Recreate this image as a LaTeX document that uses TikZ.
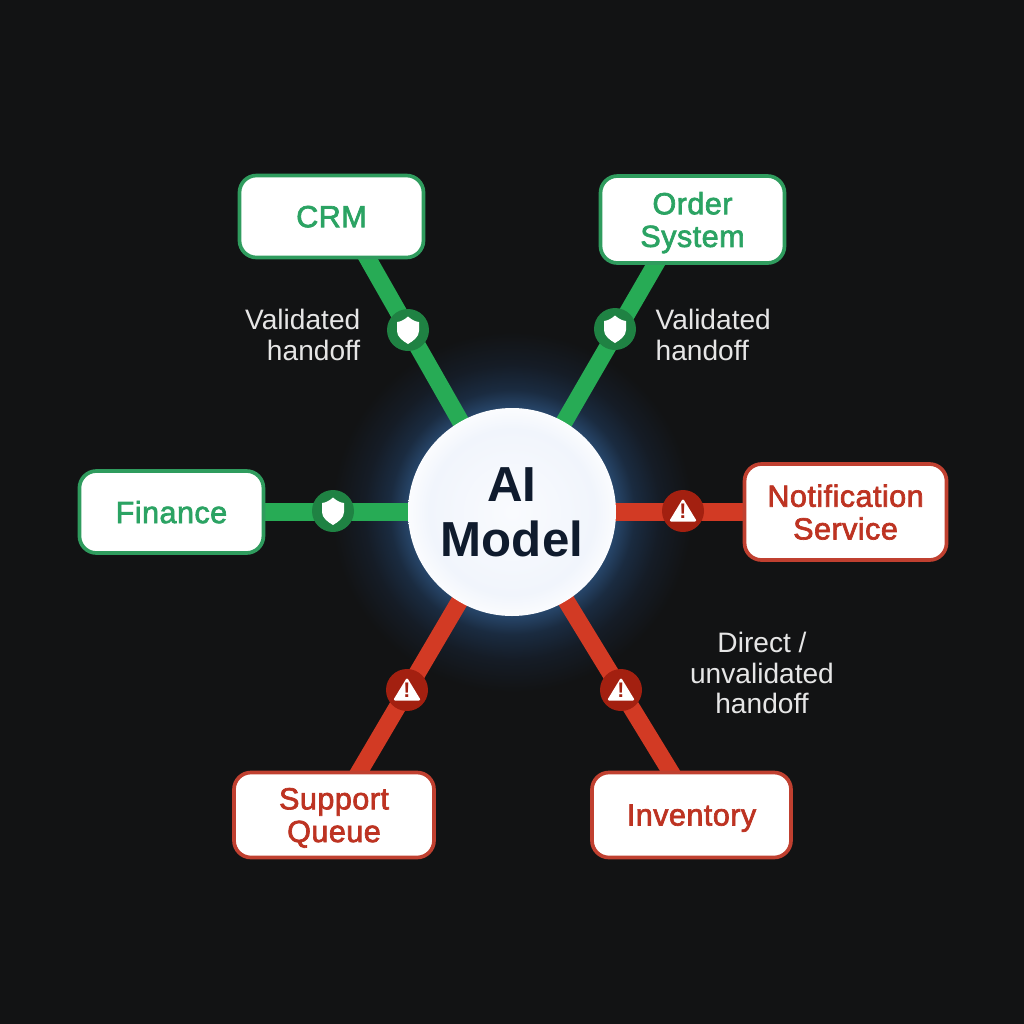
\documentclass[tikz,border=0pt]{standalone}
\usepackage{fontspec}
\setmainfont{Liberation Sans}
\newfontfamily\boxfont[FakeBold=2.2,LetterSpace=1.5]{Liberation Sans}
\usetikzlibrary{positioning,backgrounds}

\definecolor{bgcol}{HTML}{121314}
\definecolor{okline}{HTML}{27AB55}
\definecolor{okborder}{HTML}{2F9C5E}
\definecolor{okdark}{HTML}{1F8243}
\definecolor{oktext}{HTML}{2BA363}
\definecolor{badline}{HTML}{D23A24}
\definecolor{badborder}{HTML}{C04030}
\definecolor{baddark}{HTML}{A32010}
\definecolor{badtext}{HTML}{BD3322}
\definecolor{glowblue}{HTML}{27466A}
\definecolor{glowmid}{HTML}{1A2B40}
\definecolor{glowlow}{HTML}{151C26}
\definecolor{facetint}{HTML}{F1F5FC}
\definecolor{inkblue}{HTML}{0F1B2D}
\definecolor{notecol}{HTML}{E6E6E6}

\pgfdeclareradialshading{aiglow}{\pgfpoint{0cm}{0cm}}{%
  color(0bp)=(glowblue); color(14.4bp)=(glowblue); color(17bp)=(glowmid); color(20.5bp)=(glowlow); color(25bp)=(bgcol); color(50bp)=(bgcol)}
\pgfdeclareradialshading{aiface}{\pgfpoint{0cm}{0cm}}{%
  color(0bp)=(facetint!40!white); color(20bp)=(facetint); color(25bp)=(facetint!30!white); color(50bp)=(white)}

\begin{document}
\begin{tikzpicture}[
    box/.style={rectangle, draw, line width=1.05pt, fill=white, rounded corners=0.17cm, align=center,
      text depth=0pt, font=\fontsize{8.7}{9.3}\selectfont\boxfont, minimum width=1.84cm, minimum height=0.82cm},
    okbox/.style={box, draw=okborder, text=oktext},
    badbox/.style={box, draw=badborder, text=badtext},
    okline/.style={line width=4.9pt, draw=okline},
    badline/.style={line width=4.9pt, draw=badline},
    okbadge/.style={circle, fill=okdark, minimum size=0.42cm, inner sep=0pt, path picture={
      \fill[white, shift={(path picture bounding box.center)}] (0,0.135)
        .. controls (0.04,0.1) and (0.07,0.085) .. (0.11,0.08) -- (0.11,-0.01)
        .. controls (0.11,-0.07) and (0.05,-0.11) .. (0,-0.14)
        .. controls (-0.05,-0.11) and (-0.11,-0.07) .. (-0.11,-0.01) -- (-0.11,0.08)
        .. controls (-0.07,0.085) and (-0.04,0.1) .. cycle;}},
    badbadge/.style={circle, fill=baddark, minimum size=0.42cm, inner sep=0pt, text=baddark,
      font=\fontsize{6}{6}\selectfont\bfseries, path picture={
      \fill[white, rounded corners=0.6pt] ([yshift=0.125cm]path picture bounding box.center)
        -- ++(0.14,-0.23) -- ++(-0.28,0) -- cycle;}},
    note/.style={text=notecol, font=\fontsize{8}{8.8}\selectfont, inner sep=0pt}
]

\useasboundingbox (0,0) rectangle (10.24,-10.24);

% Main AI block
\node[circle, minimum size=2.08cm, inner sep=0pt, shading=aiface, align=center, text=inkblue,
  font=\fontsize{14}{15.6}\selectfont\bfseries] (ai) at (5.12,-5.12) {AI\\Model};

% Validated systems
\node[okbox] (crm) at (3.315,-2.165) {CRM};
\node[okbox, minimum height=0.87cm] (order) at (6.925,-2.195) {Order\\System};
\node[okbox, left=1.42cm of ai] (finance) {Finance};

% Direct systems
\node[badbox, right=1.26cm of ai, minimum width=2.02cm, minimum height=0.96cm] (notify) {Notification\\Service};
\node[badbox, minimum width=2.00cm, minimum height=0.85cm] (support) at (3.34,-8.15) {Support\\Queue};
\node[badbox, minimum width=1.99cm, minimum height=0.85cm] (inventory) at (6.915,-8.15) {Inventory};

% everything below the boxes
\begin{scope}[on background layer]
\fill[bgcol] (0,0) rectangle (10.24,-10.24);
\node[circle, minimum size=3.6cm, inner sep=0pt, shading=aiglow] (glow) at (ai) {};
\draw[okline] ([shift={(0.31,0.1)}]crm.south) -- (ai.center);
\draw[okline] ([shift={(-0.315,0.1)}]order.south) -- (ai.center);
\draw[okline] (finance) -- (ai.center);
\draw[badline] (notify) -- (ai.center);
\draw[badline] ([shift={(0.20,-0.1)}]support.north) -- (ai.center);
\draw[badline] ([shift={(-0.155,-0.1)}]inventory.north) -- (ai.center);
\end{scope}

\node[okbadge] (crmgate) at (4.08,-3.30) {};
\node[okbadge] (ordergate) at (6.15,-3.29) {};
\node[okbadge] (financegate) at (3.33,-5.11) {};
\node[badbadge] (notifygate) at (6.83,-5.11) {!};
\node[badbadge] (supportgate) at (4.07,-6.90) {!};
\node[badbadge] (inventorygate) at (6.21,-6.90) {!};

\node[note, anchor=east, align=right] (crmnote) at (3.61,-3.35) {Validated\\handoff};
\node[note, anchor=west, align=left] (ordernote) at (6.55,-3.35) {Validated\\handoff};
\node[note, align=center] (directnote) at (7.62,-6.73) {Direct /\\unvalidated\\handoff};

\end{tikzpicture}
\end{document}
